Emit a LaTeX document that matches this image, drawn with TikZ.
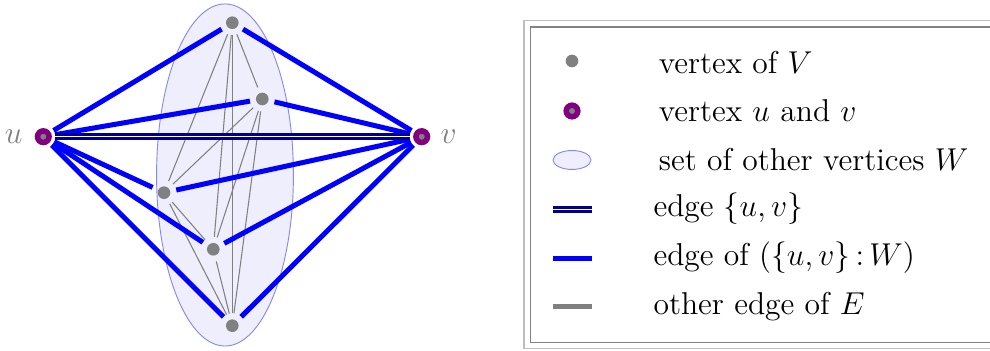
\documentclass[tikz,border=0pt]{standalone}
\usepackage{amsmath,amssymb}
\usetikzlibrary{positioning,calc}
\definecolor{uvcol}{RGB}{128,0,128}
\definecolor{wfill}{RGB}{238,238,252}
\definecolor{wdraw}{RGB}{135,135,240}
\definecolor{uvedge}{RGB}{0,0,140}
\definecolor{frameout}{RGB}{190,190,190}
\definecolor{framein}{RGB}{130,130,130}
\tikzset{
  vtx/.style={circle,fill=gray,inner sep=0pt,minimum size=4.8pt,outer sep=2.35pt},
  uvtx/.style={circle,fill=gray,draw=uvcol,line width=2.1pt,inner sep=0pt,
    minimum size=4.4pt,outer sep=2.36pt},
  wset/.style={fill=wfill,draw=wdraw,line width=0.35pt},
  wedge/.style={blue,line width=1.9pt},
  oedge/.style={gray,line width=0.4pt},
  uvline/.style={draw=uvedge,double=white,double distance=0.6pt,line width=0.95pt},
  vlab/.style={text=gray,font=\large,inner sep=1pt},
  legtext/.style={anchor=base west,font=\large,inner sep=0pt}
}
\begin{document}
\begin{tikzpicture}[x=0.38pt,y=-0.38pt]
 \useasboundingbox (0,0) rectangle (990,351);
 % the set W
 \draw[wset] (225,175) ellipse [x radius=26pt, y radius=65pt];
 % vertices
 \node[uvtx] (u) at (43.3,136.7) {};
 \node[uvtx] (v) at (421.7,136.7) {};
 \node[vlab,left=2.2pt of u] (ulab) {$u$};
 \node[vlab,right=1.4pt of v] (vlab) {$v$};
 \foreach \n/\x/\y in {1/232.3/22.7, 2/262.3/99, 3/164/192.7, 4/213.3/249.3, 5/232.3/325.7}
   \node[vtx] (w\n) at (\x,\y) {};
 % edges inside W
 \foreach \i in {1,...,4}{
   \pgfmathtruncatemacro\nxt{\i+1}
   \foreach \j in {\nxt,...,5}
     \draw[oedge] (w\i) -- (w\j);
 }
 % edges between {u,v} and W
 \foreach \i in {1,...,5}
   \draw[wedge] (u) -- (w\i) (v) -- (w\i);
 \draw[uvline] (u) -- (v);
 % legend
 \draw[frameout,line width=0.6pt] (524,20.7) rectangle (1000,348.7);
 \draw[framein,line width=0.5pt] (530.7,27) rectangle (1000,342.3);
 \node[vtx] (k1) at (572,61) {};
 \node[uvtx] (k2) at (572,111) {};
 \draw[wset] (572,160) ellipse [x radius=7.2pt, y radius=3.6pt];
 \coordinate (k4a) at (553,209.3); \coordinate (k4b) at (592,209.3);
 \coordinate (k5a) at (553,258.3); \coordinate (k5b) at (592,258.3);
 \coordinate (k6a) at (553,306.7); \coordinate (k6b) at (592,306.7);
 \draw[uvline] (k4a) -- (k4b);
 \draw[wedge] (k5a) -- (k5b);
 \draw[gray,line width=1.9pt] (k6a) -- (k6b);
 \foreach \x/\y/\txt in {658.3/73.3/{vertex of $V$},
     658.3/121.7/{vertex $u$ and $v$},
     658.3/170.7/{set of other vertices $W$},
     653/216.7/{edge $\{u,v\}$},
     653/266/{edge of $(\{u,v\}\,{:}\,W)$},
     653/315/{other edge of $E$}}
   \node[legtext] at (\x,\y) {\txt};
\end{tikzpicture}
\end{document}
